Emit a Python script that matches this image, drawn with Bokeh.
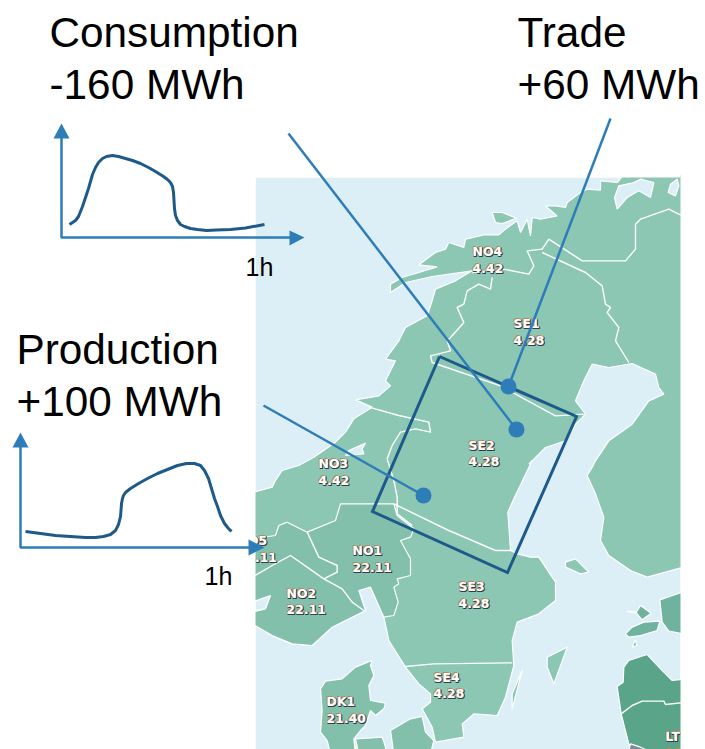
from bokeh.plotting import figure
from bokeh.models import Range1d
from bokeh.core.properties import value
from bokeh.embed import file_html
from bokeh.resources import INLINE

# ---- map geometry, in 3x crop units ----
# crop A origin (255,177), crop B origin (255,460), C (460,177), D (255,400), E (590,580), F (310,650)
land_c = [(700,-9),(490,-9),(470,15),(420,10),(420,38),(380,35),(360,45),(320,75),(315,90),(285,85),(255,85),(290,115),(240,125),(215,120),(210,175),(200,125),(180,165),(170,130),(135,155),(115,172),(70,172)]
land_a = [(630,185),(625,210),(580,195),(570,215),(540,225),(490,262),(545,268),(440,300),(405,320),(405,345),(450,315),(530,297),(650,280),(600,310),(540,335),(530,370),(515,415),(450,450),(430,490),(390,545),(420,550),(390,610),(405,625),(370,655),(300,667),(350,689),(295,724),(270,764),(240,794),(175,839),(130,864),(80,879),(60,909),(50,929),(-10,945)]
land_b = [(-10,425),(45,405),(30,445),(-10,455),(-10,490),(50,525),(110,550),(170,555),(230,500),(330,450),(310,390),(345,380),(385,470),(400,540),(450,620),(490,670),(525,700),(525,725),(500,745),(530,800),(540,845),(625,830),(620,790),(655,760),(725,765),(750,710),(775,615),(770,540),(785,485),(850,460),(900,420),(900,365),(850,290),(825,290),(785,280),(765,270),(757,155),(775,115),(830,0)]
land_a2 = [(820,860),(870,810),(930,790),(960,740),(990,710),(960,670),(985,610),(1010,560),(1060,570),(1130,558),(1200,590),(1210,630),(1225,650),(1180,670),(1130,740),(1060,790),(1020,850),(1010,870)]
land_b2 = [(995,45),(1020,100),(1045,170),(1035,240),(1060,285),(1125,330),(1175,350),(1230,335),(1300,315)]
south_no_b = [(-10,235),(60,225),(70,195),(95,185),(155,215),(240,180),(255,130),(415,130),(425,165),(475,205),(465,230),(435,240),(465,295),(465,345),(425,355),(430,370),(415,380),(428,425),(415,465),(385,470),(345,380),(310,390),(330,450),(230,500),(170,555),(110,550),(50,525),(-10,490),(-10,455),(30,445),(45,405),(-10,425)]
dk1_f = [(30,115),(45,92),(95,85),(135,50),(185,30),(180,45),(190,75),(175,105),(180,150),(225,158),(220,175),(195,195),(180,180),(165,225),(150,240),(130,265),(135,310),(60,310),(50,270),(30,245),(35,180)]
funen_f = [(135,265),(215,260),(225,290),(225,310),(145,310)]
zealand_f = [(240,240),(300,205),(335,198),(345,245),(370,270),(360,310),(250,310)]
aland_b = [(930,305),(960,295),(1000,335),(975,340),(930,320)]
gotland_b = [(875,590),(935,560),(895,670),(875,620)]
oland_b = [(800,630),(770,745),(770,700)]
est_e = [(290,30),(208,58),(215,125),(235,152),(290,162)]
hiiu_e = [(110,92),(138,95),(150,75),(182,98),(155,118),(138,98)]
saare_e = [(105,160),(125,140),(160,125),(208,122),(200,150),(150,165),(115,170)]
islet_e = [(125,200),(135,178),(138,195)]
baltic_e = [(80,318),(98,305),(100,260),(115,240),(170,222),(210,265),(245,300),(290,295),(290,520),(150,520),(115,490),(92,400)]
kalin_e = [(112,520),(120,490),(150,500),(170,510),(170,520)]
fjord_c = [(475,25),(462,60),(470,95),(500,60),(535,40),(570,60),(580,15),(540,5),(520,15)]
fjord2_c = [(650,5),(630,20),(623,45),(645,55),(655,25)]
lofot_c = [(95,105),(125,105),(168,122),(125,138),(105,135)]
fjord_d = [(330,128),(280,150),(270,165),(325,160),(320,145)]

borders_a = [
    [(650,285),(745,275),(820,290),(835,265),(815,220),(860,215),(880,185),(980,250),(1110,250),(1140,215),(1140,140),(1155,125),(1240,95),(1300,125)],
    [(860,225),(990,285),(1040,325),(1050,380),(1065,390),(1055,405),(1090,450),(1080,490),(1120,555)],
    [(710,300),(705,335),(670,320),(635,340),(625,380),(605,390),(625,435),(585,480),(575,490),(585,520),(525,535),(530,555),(735,625),(780,650),(900,715),(985,710)],
]
borders_d = [
    [(340,20),(430,45),(520,65),(525,95),(480,85),(435,95),(410,135),(395,175),(415,240),(425,290),(425,340),(470,375)],
]
borders_b = [
    [(415,130),(580,210),(720,270),(770,270)],
    [(155,215),(190,290),(245,315),(245,335),(205,355)],
    [(205,355),(260,385),(290,425),(325,450)],
    [(-10,350),(50,315),(105,285),(205,355)],
    [(450,618),(535,610),(770,607)],
]
borders_e = [
    [(92,400),(125,375),(155,362),(220,362),(225,372),(290,365)],
]

# ---- curves, in page pixels ----
consumption_x = [69,72,75,78,80,82,84,86,88,90,92,95,98,102,106,112,118,125,132,140,148,155,163,167,170,172,173,173.5,174,175,177,180,184,190,197,206,216,230,245,264]
consumption_y = [224,222,220,216,211,206,200,194,188,181,174,167,162,158,156,155,156,158,160,163,167,171,176,179,182,186,192,200,208,215,220,224,226,228,229,230,229.5,229,227.5,224]
production_x = [25,40,55,70,85,95,103,110,115,118,120,120.5,121,122,123,125,130,138,147,157,167,177,186,194,200,204,208,211,214,217,220,224,228,231]
production_y = [531,533,535,536,537,537,536,534,530,524,516,510,503,498,495,492,488,483,478,473,469,465,463,463,465,470,478,488,498,506,515,523,528,531]

# ---- annotation geometry and labels ----
box_x = [439,576,507,372,439]
box_y = [356,416,572,511,356]
leader_x = [[288,516],[610,508],[263,423]]
leader_y = [[133,429],[118,386],[405,495]]
dot_x = [516,508,423]
dot_y = [429,386,495]
axis_x = [[61,61,292],[20,20,250]]
axis_y = [[137,237,237],[446,547,547]]
head_x = [[61,53,69],[304,289,289],[20,12,28],[264,248,248]]
head_y = [[123,138,138],[237,230,245],[432,447,447],[547,539,555]]

title_text = ["Consumption","-160 MWh","Trade","+60 MWh","Production","+100 MWh"]
title_x = [49,49,517,517,16,16]
title_y = [47,99,47,99,364,416]
unit_text = ["1h","1h"]
unit_x = [245,204]
unit_y = [275,584]

area_text = ["NO4","4.42","SE1","4.28","SE2","4.28","NO3","4.42","NO1","22.11","NO2","22.11","NO5","22.11","SE3","4.28","SE4","4.28","DK1","21.40","LT","21.40"]
area_x = [472,472,513,513,468,468,318,318,352,352,286,286,237,237,458,458,433,433,326,326,665,665]
area_y = [255,272,327,344,449,465,467,484,554,571,597,613,544,561,590,607,681,697,705,722,740,757]

OCEAN = "#ddeff6"
LAND = "#8bc7b3"
SOUTH = "#83c0ac"
DARK = "#5aa58a"
MID = "#6fb29d"
GREY = "#7d8b9a"
BLUE = "#2e7db8"
NAVY = "#1d5a8a"

BASE = 0.355  # bokeh's svg text sits this far (in em) below the asked baseline

def crop(ox, oy, pts):
    return [ox + x / 3 for x, y in pts], [oy + y / 3 for x, y in pts]

p = figure(width=705, height=749, x_range=Range1d(0, 705), y_range=Range1d(749, 0),
           output_backend="svg", toolbar_location=None, min_border=0,
           outline_line_color=None, background_fill_color="white", border_fill_color="white")
p.axis.visible = False
p.grid.visible = False

p.quad(left=[255], right=[680], top=[177], bottom=[749], fill_color=OCEAN, line_color=None)

segs = [crop(460, 177, land_c), crop(255, 177, land_a), crop(255, 460, land_b),
        crop(255, 177, land_a2), crop(255, 460, land_b2)]
p.patch(sum((s[0] for s in segs), []), sum((s[1] for s in segs), []),
        fill_color=LAND, line_color="white", line_width=1.2)

def poly(ox, oy, pts, color):
    x, y = crop(ox, oy, pts)
    p.patch(x, y, fill_color=color, line_color="white", line_width=1.2)

poly(255, 460, south_no_b, SOUTH)
poly(310, 650, dk1_f, SOUTH)
poly(310, 650, funen_f, SOUTH)
poly(310, 650, zealand_f, SOUTH)
poly(255, 460, aland_b, LAND)
poly(255, 460, gotland_b, LAND)
poly(255, 460, oland_b, LAND)
poly(590, 580, est_e, MID)
poly(590, 580, hiiu_e, MID)
poly(590, 580, saare_e, MID)
poly(590, 580, islet_e, MID)
poly(590, 580, baltic_e, DARK)
poly(590, 580, kalin_e, GREY)
poly(460, 177, lofot_c, LAND)
poly(460, 177, fjord_c, OCEAN)
poly(460, 177, fjord2_c, OCEAN)
poly(255, 400, fjord_d, OCEAN)

groups = [(255, 177, borders_a), (255, 400, borders_d), (255, 460, borders_b), (590, 580, borders_e)]
bxs, bys = [], []
for ox, oy, g in groups:
    for b in g:
        x, y = crop(ox, oy, b)
        bxs.append(x)
        bys.append(y)
p.multi_line(bxs, bys, line_color="white", line_width=1.4, line_join="round")

font = value("DejaVu Sans")
label_y = [y - BASE * 12.5 for y in area_y]
for dx, dy, color in [(1, 1, "#2f3d4a"), (1, 0, "#2f3d4a"), (0, 1, "#2f3d4a"), (-0.7, -0.3, "#b98a5e"), (0, 0, "white")]:
    p.text([x + dx for x in area_x], [y + dy for y in label_y], text=area_text, text_font=font,
           text_font_size="12.5px", text_font_style="bold", text_color=color, text_baseline="alphabetic")

# page white around the map crop
p.quad(left=[0, 680, 255], right=[255, 720, 680], top=[0, 0, 0], bottom=[760, 760, 177],
       fill_color="white", line_color=None)

p.line(consumption_x, consumption_y, line_color=NAVY, line_width=3, line_join="round")
p.line(production_x, production_y, line_color=NAVY, line_width=3, line_join="round")
p.multi_line(axis_x, axis_y, line_color=BLUE, line_width=2.5)
p.patches(head_x, head_y, fill_color=BLUE, line_color=None)
p.line(box_x, box_y, line_color=NAVY, line_width=3, line_join="miter")
p.multi_line(leader_x, leader_y, line_color=BLUE, line_width=2.5)
p.scatter(dot_x, dot_y, size=16, fill_color=BLUE, line_color=None)

tfont = value("Liberation Sans")
p.text(title_x, [y - BASE * 42.3 for y in title_y], text=title_text, text_font=tfont, text_font_size="42.3px",
       text_color="black", text_baseline="alphabetic")
p.text(unit_x, [y - BASE * 25 for y in unit_y], text=unit_text, text_font=tfont, text_font_size="25px",
       text_color="black", text_baseline="alphabetic")

open("out.html", "w").write(file_html(p, INLINE))
